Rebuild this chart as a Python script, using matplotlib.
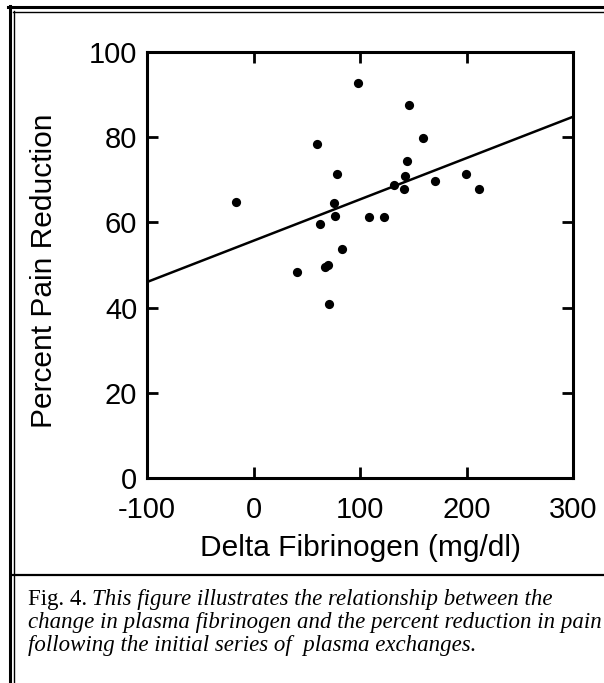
import matplotlib
matplotlib.use("Agg")
import matplotlib.pyplot as plt
import numpy as np
from matplotlib.lines import Line2D

# ---- data ----
delta_fib = [97.8, 146.3, 159.2, 59.9, 143.8, 78.1, 142.3, 131.9, 141.0, 170.7,
             -16.1, 75.9, 76.2, 62.2, 108.7, 122.2, 82.8, 67.5, 69.5, 40.8,
             70.9, 199.2, 211.4]
pain_red = [92.8, 87.6, 79.8, 78.5, 74.5, 71.4, 70.8, 68.8, 67.9, 69.8,
            64.9, 64.6, 61.6, 59.6, 61.3, 61.3, 53.8, 49.5, 50.0, 48.3,
            40.9, 71.4, 67.8]
fit_intercept = 55.7
fit_slope = 0.097
x_ticks = [-100, 0, 100, 200, 300]
y_ticks = [0, 20, 40, 60, 80, 100]
x_label = "Delta Fibrinogen (mg/dl)"
y_label = "Percent Pain Reduction"
caption_lead = "Fig. 4."
caption_lines = ["This figure illustrates the relationship between the",
                 "change in plasma fibrinogen and the percent reduction in pain",
                 "following the initial series of  plasma exchanges."]

W, H = 604, 683
fig = plt.figure(figsize=(W / 100, H / 100), dpi=100)
fig.patch.set_facecolor("white")

def fx(px):
    return px / W

def fy(py):
    return 1 - py / H

ax = fig.add_axes([fx(147), fy(478), fx(573) - fx(147), fy(52) - fy(478)])
sans = "Liberation Sans"

ax.scatter(delta_fib, pain_red, s=44, color="black", zorder=3, linewidths=0)
xl = np.array([-100, 300])
ax.plot(xl, fit_intercept + fit_slope * xl, color="black", lw=1.8, zorder=2)

ax.set_xlim(-100, 300)
ax.set_ylim(0, 100)
ax.set_xticks(x_ticks)
ax.set_yticks(y_ticks)
ax.set_xticklabels([str(v) for v in x_ticks], fontsize=21, family=sans)
ax.set_yticklabels([str(v) for v in y_ticks], fontsize=21, family=sans)
ax.tick_params(direction="in", length=8, width=2, top=True, right=True,
               color="black")
ax.tick_params(axis="x", pad=13)
ax.tick_params(axis="y", pad=7)
for sp in ax.spines.values():
    sp.set_linewidth(2.2)
ax.set_xlabel(x_label, fontsize=21.5, family=sans, labelpad=7)
ax.set_ylabel(y_label, fontsize=21.5, family=sans)
ax.yaxis.set_label_coords((58 - 147) / 426, (478 - 271) / 426)

# ---- figure frame lines ----
def hline(y, x0, x1, lw):
    fig.add_artist(Line2D([fx(x0), fx(x1)], [fy(y), fy(y)], color="black",
                          lw=lw, transform=fig.transFigure))

def vline(x, y0, y1, lw):
    fig.add_artist(Line2D([fx(x), fx(x)], [fy(y0), fy(y1)], color="black",
                          lw=lw, transform=fig.transFigure))

hline(7, 8, W, 2.2)
hline(11.5, 12.5, W, 1.0)
vline(9.5, 6, H, 2.2)
vline(13.5, 11, H, 1.0)
hline(575, 13, W, 1.6)

# ---- caption ----
serif = "Liberation Serif"
fs_cap = 16.5
cap_x = fx(28)
t1 = fig.text(cap_x, fy(605), caption_lead, fontsize=fs_cap, family=serif,
              va="baseline", ha="left")
fig.canvas.draw()
r = fig.canvas.get_renderer()
bb = t1.get_window_extent(r)
fig.text(bb.x1 / W + fx(5), fy(605), caption_lines[0], fontsize=fs_cap,
         family=serif, style="italic", va="baseline", ha="left")
fig.text(cap_x, fy(628), caption_lines[1], fontsize=fs_cap, family=serif,
         style="italic", va="baseline", ha="left")
fig.text(cap_x, fy(651), caption_lines[2], fontsize=fs_cap, family=serif,
         style="italic", va="baseline", ha="left")

fig.savefig("out.png", dpi=100, facecolor="white")
